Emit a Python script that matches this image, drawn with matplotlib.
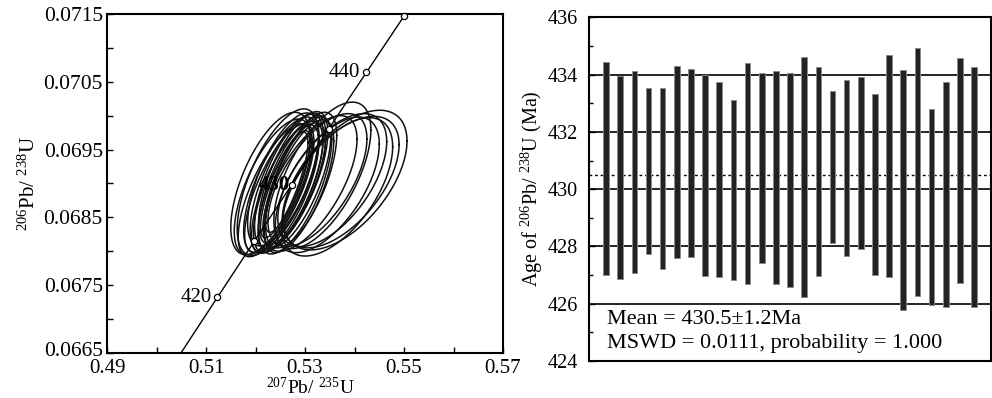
import numpy as np
import matplotlib
matplotlib.use("Agg")
import matplotlib.pyplot as plt
import matplotlib.transforms as mtransforms
from matplotlib.ticker import MultipleLocator

plt.rcParams['font.family'] = ['Liberation Serif', 'DejaVu Serif']
plt.rcParams['mathtext.fontset'] = 'custom'
plt.rcParams['mathtext.rm'] = 'Liberation Serif'
plt.rcParams['mathtext.it'] = 'Liberation Serif:italic'
plt.rcParams['mathtext.bf'] = 'Liberation Serif:bold'

# ---------------- data ----------------
# decay constants (per Ma) used for the concordia curve
lambda238 = 1.55125e-4
lambda235 = 9.8485e-4
marker_ages = [420, 425, 430, 435, 440, 445]
label_ages = [420, 430, 440]

# error ellipses: centre (207Pb/235U, 206Pb/238U), half extents, correlation
ell_x = [0.5230, 0.5235, 0.5240, 0.5245, 0.5248, 0.5252, 0.5256, 0.5260, 0.5263,
         0.5266, 0.5270, 0.5273, 0.5276, 0.5280, 0.5284, 0.5288, 0.5292, 0.5258,
         0.5265, 0.5310, 0.5325, 0.5335, 0.5345, 0.5355, 0.5365, 0.5372, 0.5381]
ell_y = [0.06900, 0.06895, 0.06890, 0.06902, 0.06893, 0.06898, 0.06906, 0.06892, 0.06900,
         0.06895, 0.06904, 0.06896, 0.06908, 0.06898, 0.06902, 0.06896, 0.06905, 0.06898,
         0.06903, 0.06900, 0.06905, 0.06912, 0.06898, 0.06905, 0.06895, 0.06902, 0.06905]
ell_hx = [0.0080, 0.0078, 0.0075, 0.0082, 0.0070, 0.0076, 0.0072, 0.0068, 0.0074,
          0.0070, 0.0072, 0.0068, 0.0070, 0.0074, 0.0068, 0.0070, 0.0072, 0.0048,
          0.0045, 0.0095, 0.0100, 0.0098, 0.0105, 0.0110, 0.0112, 0.0118, 0.0125]
ell_hy = [0.00105, 0.00100, 0.00098, 0.00108, 0.00095, 0.00100, 0.00098, 0.00095, 0.00102,
          0.00097, 0.00100, 0.00094, 0.00098, 0.00102, 0.00096, 0.00098, 0.00100, 0.00078,
          0.00075, 0.00100, 0.00098, 0.00108, 0.00100, 0.00098, 0.00102, 0.00097, 0.00103]
ell_rho = [0.62, 0.66, 0.70, 0.64, 0.72, 0.68, 0.66, 0.72, 0.68,
           0.70, 0.66, 0.72, 0.68, 0.66, 0.70, 0.68, 0.66, 0.80,
           0.80, 0.65, 0.62, 0.62, 0.60, 0.58, 0.58, 0.57, 0.56]

# weighted mean plot: 206Pb/238U ages (upper, lower limits) per spot
age_top = [434.43, 433.95, 434.13, 433.52, 433.52, 434.30, 434.19, 433.98, 433.74,
           433.13, 434.40, 434.05, 434.13, 434.05, 434.63, 434.26, 433.42, 433.80,
           433.91, 433.31, 434.67, 434.16, 434.92, 432.79, 433.74, 434.57, 434.28]
age_bot = [427.01, 426.86, 427.08, 427.74, 427.20, 427.59, 427.63, 426.95, 426.92,
           426.83, 426.69, 427.42, 426.70, 426.60, 426.22, 426.95, 428.13, 427.65,
           427.90, 427.01, 426.92, 425.78, 426.27, 425.97, 425.90, 426.72, 425.87]
mean_age = 430.5
grid_ages = [426, 428, 430, 432, 434]

# ---------------- figure ----------------
fig = plt.figure(figsize=(9.92, 3.98), dpi=100)

# ---- concordia ----
ax1 = fig.add_axes([0.1079, 0.1131, 0.3992, 0.8518])
t = np.linspace(380, 480, 400)
cx = np.exp(lambda235 * t) - 1
cy = np.exp(lambda238 * t) - 1
ax1.plot(cx, cy, color='black', lw=1.0, zorder=3)

theta = np.linspace(0, 2 * np.pi, 240)
for x0, y0, hx, hy, r in zip(ell_x, ell_y, ell_hx, ell_hy, ell_rho):
    ex = x0 + hx * np.cos(theta)
    ey = y0 + hy * (r * np.cos(theta) + np.sqrt(1 - r * r) * np.sin(theta))
    ax1.plot(ex, ey, color='#111111', lw=1.1, zorder=2)

ma = np.array(marker_ages, dtype=float)
ax1.plot(np.exp(lambda235 * ma) - 1, np.exp(lambda238 * ma) - 1, 'o', ms=4.5,
         mfc='white', mec='black', mew=0.9, zorder=4, clip_on=False)
for a in label_ages:
    xa = np.exp(lambda235 * a) - 1
    ya = np.exp(lambda238 * a) - 1
    off = 0.0004 if a == 430 else 0.0012
    ax1.text(xa - off, ya, str(a), ha='right', va='center', fontsize=15,
             fontweight='bold' if a == 430 else 'normal', zorder=5)

ax1.set_xlim(0.49, 0.57)
ax1.set_ylim(0.0665, 0.0715)
ax1.xaxis.set_minor_locator(MultipleLocator(0.01))
ax1.yaxis.set_minor_locator(MultipleLocator(0.0005))
ax1.set_xticks([0.49, 0.51, 0.53, 0.55, 0.57])
ax1.set_xticklabels(['0.49', '0.51', '0.53', '0.55', '0.57'])
ax1.set_yticks([0.0665, 0.0675, 0.0685, 0.0695, 0.0705, 0.0715])
ax1.set_yticklabels(['0.0665', '0.0675', '0.0685', '0.0695', '0.0705', '0.0715'])
ax1.tick_params(which='both', direction='in', width=1.0, length=4)
ax1.tick_params(axis='y', pad=3, labelsize=15.5)
ax1.tick_params(axis='x', pad=4.5, labelsize=15)
for s in ax1.spines.values():
    s.set_linewidth(1.5)
# lift the lowest y tick label a little so it clears the first x tick label
lbl0 = ax1.get_yticklabels()[0]
lbl0.set_transform(lbl0.get_transform() +
                   mtransforms.ScaledTranslation(0, 3 / 72, fig.dpi_scale_trans))
ax1.set_ylabel(r'$^{206}$Pb/ $^{238}$U', fontsize=15, labelpad=3)
fig.text(0.313, 0.0, r'$^{207}$Pb/ $^{235}$U', fontsize=14, ha='center', va='bottom')

# ---- weighted mean ----
ax2 = fig.add_axes([0.5938, 0.0930, 0.4052, 0.8635])
n = np.arange(1, len(age_top) + 1)
top = np.array(age_top)
bot = np.array(age_bot)
for g in grid_ages:
    ax2.axhline(g, color='black', lw=1.2, zorder=1)
ax2.axhline(mean_age, color='black', lw=1.0, ls=(0, (2, 2)), zorder=1)
ax2.bar(n, top - bot, bottom=bot, width=0.40, color='#222222',
        edgecolor='#8a8a8a', linewidth=0.7, zorder=3)
ax2.set_xlim(-0.2, 28.2)
ax2.set_ylim(424, 436)
ax2.set_xticks([])
ax2.yaxis.set_major_locator(MultipleLocator(2))
ax2.yaxis.set_minor_locator(MultipleLocator(1))
ax2.tick_params(which='both', direction='in', labelsize=14.5, width=1.0, pad=8)
ax2.tick_params(which='major', length=4)
ax2.tick_params(which='minor', length=3)
for s in ax2.spines.values():
    s.set_linewidth(1.5)
ax2.set_ylabel(r'Age of $^{206}$Pb/ $^{238}$U (Ma)', fontsize=14.5, labelpad=2)
ax2.text(1.07, 425.45, 'Mean = 430.5\u00b11.2Ma', fontsize=16, ha='left', va='center')
ax2.text(1.07, 424.62, 'MSWD = 0.0111, probability = 1.000', fontsize=16,
         ha='left', va='center')

fig.savefig('out.png', dpi=100)
